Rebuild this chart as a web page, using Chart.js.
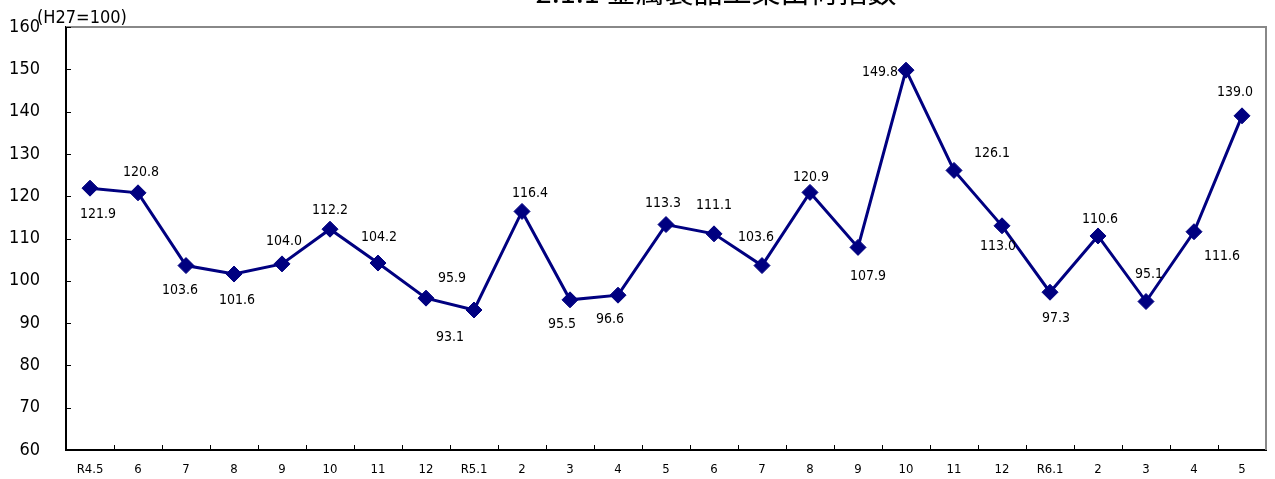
<!DOCTYPE html>
<html lang="ja">
<head>
<meta charset="utf-8">
<title>金属製品工業出荷指数</title>
<script src="https://cdn.jsdelivr.net/npm/chart.js@4/dist/chart.umd.min.js"></script>
<style>
  html, body { margin: 0; padding: 0; background: #fff; overflow: hidden; }
  canvas { display: block; }
</style>
</head>
<body>
<canvas id="indexChart" width="1275" height="479"></canvas>
<script>
// month labels (R4.5 .. R6.5)
const months = [
  "R4.5", "6", "7", "8", "9", "10", "11", "12",
  "R5.1", "2", "3", "4", "5", "6", "7", "8", "9", "10", "11", "12",
  "R6.1", "2", "3", "4", "5"
];

// index values (H27=100)
const indexValues = [
  121.9, 120.8, 103.6, 101.6, 104.0, 112.2, 104.2, 95.9,
  93.1, 116.4, 95.5, 96.6, 113.3, 111.1, 103.6, 120.9, 107.9, 149.8, 126.1, 113.0,
  97.3, 110.6, 95.1, 111.6, 139.0
];

const yTicks = [60, 70, 80, 90, 100, 110, 120, 130, 140, 150, 160];

// where each value label sits relative to its marker (px)
const labelOffsets = [
  [8, 26], [3, -20], [-6, 25], [3, 26], [2, -23], [0, -19], [1, -26], [26, -20],
  [-24, 27], [8, -18], [-8, 25], [-8, 24], [-3, -21], [0, -28], [-6, -28], [1, -15],
  [10, 29], [-26, 2], [38, -17], [-4, 21], [6, 26], [2, -17], [3, -27], [28, 25], [-7, -23]
];

const NAVY = "#000080";
const TITLE = "2.1.1 金属製品工業出荷指数";
const FONT = "'DejaVu Sans Condensed', 'Liberation Sans'";

const frame = {
  id: "frame",
  afterDraw(chart) {
    const { ctx, chartArea: a, scales } = chart;
    ctx.save();

    // gray top/right border
    ctx.strokeStyle = "#888";
    ctx.lineWidth = 2;
    ctx.beginPath();
    ctx.moveTo(a.left, a.top);
    ctx.lineTo(a.right, a.top);
    ctx.lineTo(a.right, a.bottom);
    ctx.stroke();

    // inward tick marks
    ctx.strokeStyle = "#000";
    ctx.lineWidth = 1;
    ctx.beginPath();
    scales.y.ticks.forEach((t, i) => {
      const py = Math.round(scales.y.getPixelForTick(i)) + 0.5;
      ctx.moveTo(a.left, py);
      ctx.lineTo(a.left + 5, py);
    });
    const half = (scales.x.getPixelForValue(1) - scales.x.getPixelForValue(0)) / 2;
    for (let i = 1; i < months.length; i++) {
      const px = Math.round(scales.x.getPixelForValue(i) - half) + 0.5;
      ctx.moveTo(px, a.bottom);
      ctx.lineTo(px, a.bottom - 5);
    }
    ctx.stroke();

    // value labels
    ctx.fillStyle = "#000";
    ctx.font = "14px " + FONT;
    ctx.textAlign = "center";
    ctx.textBaseline = "middle";
    chart.getDatasetMeta(0).data.forEach((pt, i) => {
      const [dx, dy] = labelOffsets[i];
      ctx.fillText(indexValues[i].toFixed(1), pt.x + dx, pt.y + dy);
    });

    // unit note
    ctx.font = "18px " + FONT;
    ctx.textAlign = "left";
    ctx.fillText("(H27=100)", 37, 18);

    // title (cut off at the top edge, as in the original)
    ctx.font = "29px 'Noto Sans CJK JP'";
    ctx.textAlign = "center";
    ctx.textBaseline = "alphabetic";
    ctx.fillText(TITLE, 716, 3);

    ctx.restore();
  }
};

new Chart(document.getElementById("indexChart"), {
  type: "line",
  data: {
    labels: months,
    datasets: [{
      data: indexValues,
      borderColor: NAVY,
      backgroundColor: NAVY,
      borderWidth: 3,
      tension: 0,
      pointStyle: "rectRot",
      pointRadius: 8,
      pointHoverRadius: 8,
      pointBorderWidth: 1
    }]
  },
  options: {
    responsive: false,
    animation: false,
    layout: { padding: { top: 27, right: 2, left: 0, bottom: 0 } },
    plugins: {
      legend: { display: false },
      title: { display: false },
      tooltip: { enabled: false }
    },
    scales: {
      x: {
        offset: true,
        grid: { display: false, drawTicks: false },
        border: { display: true, color: "#000", width: 2 },
        ticks: {
          color: "#000",
          padding: 12,
          maxRotation: 0,
          autoSkip: false,
          font: { family: FONT, size: 13 }
        },
        afterFit(scale) {
          scale.height = 29;
          scale.paddingLeft = 0;
          scale.paddingRight = 0;
        }
      },
      y: {
        min: yTicks[0],
        max: yTicks[yTicks.length - 1],
        grid: { display: false, drawTicks: false },
        border: { display: true, color: "#000", width: 2 },
        afterBuildTicks(scale) { scale.ticks = yTicks.map((v) => ({ value: v })); },
        ticks: {
          color: "#000",
          padding: 26,
          font: { family: FONT, size: 18 }
        },
        afterFit(scale) {
          scale.width = 66;
          scale.paddingTop = 0;
          scale.paddingBottom = 0;
        }
      }
    }
  },
  plugins: [frame]
});
</script>
</body>
</html>
